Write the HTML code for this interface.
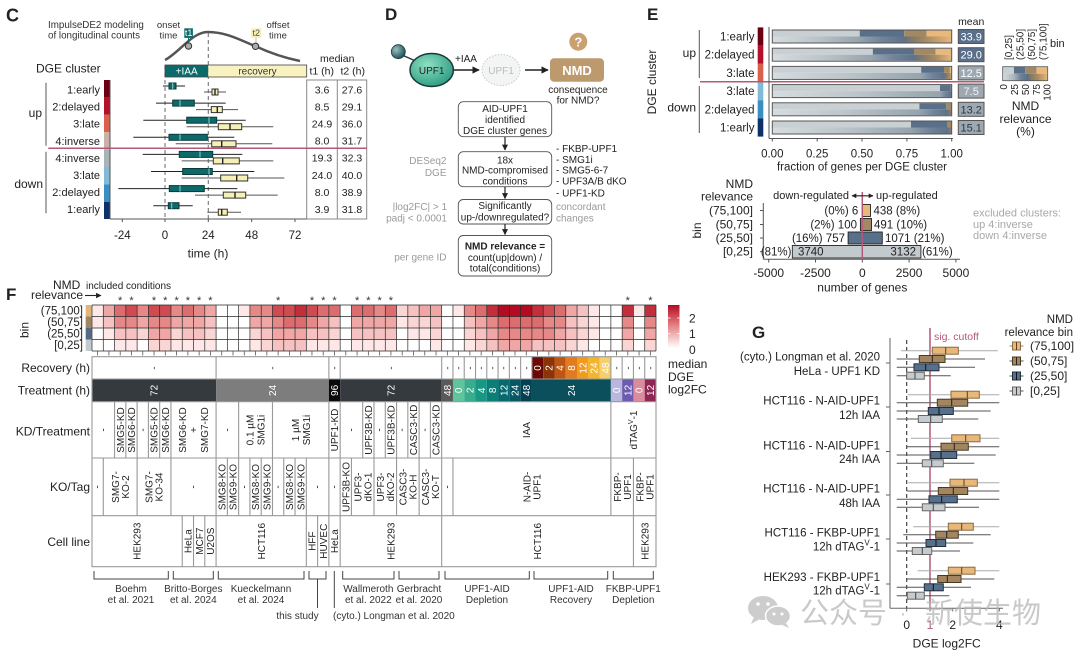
<!DOCTYPE html>
<html><head><meta charset="utf-8">
<style>
html,body{margin:0;padding:0;background:#fff}
svg{display:block;font-family:"Liberation Sans","Noto Sans CJK SC",sans-serif}
.a1{fill:#fde8e7}.a2{fill:#f9d5d4}.a3{fill:#f5c2c1}.a4{fill:#efa6a5}.a5{fill:#e68888}.a6{fill:#dc6c6e}.a7{fill:#d04a50}.a8{fill:#c42e3b}.a9{fill:#b50a22}
.w{fill:#fff}
.t10{font-size:10px}
.g{fill:#9a9a9a}
</style></head><body>
<svg width="1080" height="657" viewBox="0 0 1080 657" xmlns="http://www.w3.org/2000/svg">
<defs>
<marker id="ah" viewBox="0 0 10 10" refX="9" refY="5" markerWidth="5" markerHeight="5" orient="auto"><path d="M0,0L10,5L0,10z" fill="#222"/></marker>
<marker id="ahs" viewBox="0 0 10 10" refX="9" refY="5" markerWidth="4" markerHeight="4" orient="auto-start-reverse"><path d="M0,0L10,5L0,10z" fill="#222"/></marker>
<radialGradient id="upf" cx="0.4" cy="0.35" r="0.7"><stop offset="0" stop-color="#8fe0c2"/><stop offset="1" stop-color="#2b9a80"/></radialGradient>
<radialGradient id="deg" cx="0.35" cy="0.35" r="0.7"><stop offset="0" stop-color="#9cc0c2"/><stop offset="1" stop-color="#1d4b55"/></radialGradient>
<linearGradient id="cb" x1="0" y1="0" x2="0" y2="1"><stop offset="0" stop-color="#b50a22"/><stop offset="0.45" stop-color="#e27c7e"/><stop offset="1" stop-color="#ffffff"/></linearGradient>
<linearGradient id="e1"><stop offset="0" stop-color="#d6dcdf"/><stop offset=".24" stop-color="#bcc5ca"/><stop offset=".487" stop-color="#95a3ad"/><stop offset=".61" stop-color="#72849a"/><stop offset=".735" stop-color="#5e728a"/><stop offset=".8" stop-color="#8d7d62"/><stop offset=".86" stop-color="#a98c63"/><stop offset="1" stop-color="#e6b87a"/></linearGradient>
<linearGradient id="e2"><stop offset="0" stop-color="#d6dcdf"/><stop offset=".28" stop-color="#bcc5ca"/><stop offset=".56" stop-color="#95a3ad"/><stop offset=".675" stop-color="#72849a"/><stop offset=".79" stop-color="#5e728a"/><stop offset=".85" stop-color="#8d7d62"/><stop offset=".91" stop-color="#a98c63"/><stop offset="1" stop-color="#e6b87a"/></linearGradient>
<linearGradient id="e3"><stop offset="0" stop-color="#d6dcdf"/><stop offset=".41" stop-color="#bcc5ca"/><stop offset=".83" stop-color="#95a3ad"/><stop offset=".89" stop-color="#72849a"/><stop offset=".957" stop-color="#5e728a"/><stop offset=".975" stop-color="#8d7d62"/><stop offset=".99" stop-color="#a98c63"/><stop offset="1" stop-color="#e6b87a"/></linearGradient>
<linearGradient id="e4"><stop offset="0" stop-color="#d6dcdf"/><stop offset=".47" stop-color="#bcc5ca"/><stop offset=".935" stop-color="#95a3ad"/><stop offset=".965" stop-color="#72849a"/><stop offset="1" stop-color="#5e728a"/></linearGradient>
<linearGradient id="e5"><stop offset="0" stop-color="#d6dcdf"/><stop offset=".41" stop-color="#bcc5ca"/><stop offset=".82" stop-color="#95a3ad"/><stop offset=".9" stop-color="#72849a"/><stop offset=".97" stop-color="#5e728a"/><stop offset="1" stop-color="#8d7d62"/></linearGradient>
<linearGradient id="e6"><stop offset="0" stop-color="#d6dcdf"/><stop offset=".39" stop-color="#bcc5ca"/><stop offset=".773" stop-color="#95a3ad"/><stop offset=".87" stop-color="#72849a"/><stop offset=".976" stop-color="#5e728a"/><stop offset="1" stop-color="#8d7d62"/></linearGradient>
<linearGradient id="el"><stop offset="0" stop-color="#d6dcdf"/><stop offset=".25" stop-color="#aab5bc"/><stop offset=".4" stop-color="#6f8197"/><stop offset=".55" stop-color="#5a708a"/><stop offset=".65" stop-color="#8d7d62"/><stop offset=".78" stop-color="#a98c63"/><stop offset="1" stop-color="#e6b87a"/></linearGradient>
</defs>
<rect width="1080" height="657" fill="#fff"/>

<!-- ================= PANEL C ================= -->
<g fill="#222">
<text x="6" y="21.5" font-size="18" font-weight="bold">C</text>
<text x="48" y="28" font-size="9.8" fill="#333">ImpulseDE2 modeling</text>
<text x="48" y="38.5" font-size="9.8" fill="#333">of longitudinal counts</text>
<text x="168.5" y="28" font-size="9.5" text-anchor="middle" fill="#333">onset</text>
<text x="168.5" y="38.5" font-size="9.5" text-anchor="middle" fill="#333">time</text>
<text x="278" y="28" font-size="9.5" text-anchor="middle" fill="#333">offset</text>
<text x="278" y="38.5" font-size="9.5" text-anchor="middle" fill="#333">time</text>
</g>
<path d="M165,60 C180,52 192,32 208,32 C226,32 240,40 255,46 C270,53 285,58 300,61" fill="none" stroke="#555" stroke-width="2.5"/>
<line x1="188.5" y1="37.7" x2="188.5" y2="43" stroke="#0b6b6b" stroke-width="1"/>
<rect x="184.3" y="28.3" width="8.6" height="9.6" fill="#0b6b6b"/>
<text x="188.6" y="36" font-size="9" fill="#fff" text-anchor="middle">t1</text>
<line x1="256" y1="37.7" x2="256" y2="43" stroke="#bbb" stroke-width="1"/>
<rect x="251.2" y="28.3" width="10" height="9.6" fill="#f6efb6"/>
<text x="256.2" y="36" font-size="9" fill="#555" text-anchor="middle">t2</text>
<circle cx="188.5" cy="46" r="3.2" fill="#aaa" stroke="#333" stroke-width="1"/>
<circle cx="255.5" cy="46.3" r="3.2" fill="#aaa" stroke="#333" stroke-width="1"/>
<line x1="165" y1="66" x2="165" y2="219" stroke="#777" stroke-width="1.1" stroke-dasharray="4,3"/>
<line x1="208.3" y1="33" x2="208.3" y2="219" stroke="#777" stroke-width="1.1" stroke-dasharray="4,3"/>
<rect x="165" y="65" width="43.3" height="12" fill="#0b6b6b"/>
<rect x="208.3" y="65" width="98.4" height="12" fill="#f8f1c0"/>
<rect x="165" y="65" width="141.7" height="12" fill="none" stroke="#444" stroke-width="0.8"/>
<text x="186.7" y="74.5" font-size="10" fill="#fff" text-anchor="middle">+IAA</text>
<text x="257.5" y="74.5" font-size="10" fill="#333" text-anchor="middle">recovery</text>
<text x="36" y="72.5" font-size="12" fill="#222">DGE cluster</text>
<text x="320" y="62" font-size="10.5" fill="#222">median</text>
<text x="309.5" y="74.5" font-size="10.5" fill="#222">t1 (h)</text>
<text x="340.5" y="74.5" font-size="10.5" fill="#222">t2 (h)</text>
<rect x="306.7" y="80" width="60" height="139" fill="none" stroke="#888" stroke-width="1"/>
<line x1="337.3" y1="80" x2="337.3" y2="219" stroke="#888" stroke-width="1"/>
<g font-size="10.5" fill="#222" text-anchor="middle">
<text x="322" y="93.3">3.6</text><text x="352" y="93.3">27.6</text>
<text x="322" y="110.4">8.5</text><text x="352" y="110.4">29.1</text>
<text x="322" y="127.5">24.9</text><text x="352" y="127.5">36.0</text>
<text x="322" y="144.6">8.0</text><text x="352" y="144.6">31.7</text>
<text x="322" y="161.7">19.3</text><text x="352" y="161.7">32.3</text>
<text x="322" y="178.8">24.0</text><text x="352" y="178.8">40.0</text>
<text x="322" y="195.9">8.0</text><text x="352" y="195.9">38.9</text>
<text x="322" y="213">3.9</text><text x="352" y="213">31.8</text>
</g>
<!-- strip -->
<rect x="104" y="80" width="5.5" height="17.4" fill="#6b0015"/>
<rect x="104" y="97.4" width="5.5" height="17.4" fill="#b5102a"/>
<rect x="104" y="114.8" width="5.5" height="17.4" fill="#d9604a"/>
<rect x="104" y="132.2" width="5.5" height="17.4" fill="#c9b0a8"/>
<rect x="104" y="149.6" width="5.5" height="17.4" fill="#a8b4b8"/>
<rect x="104" y="167" width="5.5" height="17.4" fill="#80bcd8"/>
<rect x="104" y="184.4" width="5.5" height="17.4" fill="#3a8fc2"/>
<rect x="104" y="201.8" width="5.5" height="17.2" fill="#0d3068"/>
<g font-size="11" fill="#222" text-anchor="end">
<text x="100" y="93.5">1:early</text>
<text x="100" y="110.6">2:delayed</text>
<text x="100" y="127.7">3:late</text>
<text x="100" y="144.8">4:inverse</text>
<text x="100" y="161.9">4:inverse</text>
<text x="100" y="179">3:late</text>
<text x="100" y="196.1">2:delayed</text>
<text x="100" y="213.2">1:early</text>
</g>
<text x="42" y="117" font-size="12" text-anchor="end" fill="#222">up</text>
<text x="43" y="188" font-size="12" text-anchor="end" fill="#222">down</text>
<line x1="46" y1="82.7" x2="46" y2="145.7" stroke="#555" stroke-width="1"/>
<line x1="46" y1="151.7" x2="46" y2="213.3" stroke="#555" stroke-width="1"/>
<line x1="110" y1="80" x2="110" y2="219" stroke="#555" stroke-width="1"/>
<line x1="110" y1="219" x2="306.7" y2="219" stroke="#555" stroke-width="1"/>
<line x1="48.3" y1="148.3" x2="366.7" y2="148.3" stroke="#b4587a" stroke-width="1.5"/>
<!-- C boxplots -->
<g stroke-width="1">
<line x1="163" y1="86" x2="185" y2="86" stroke="#222"/><rect x="169" y="83" width="7" height="6" fill="#0d6a6a" stroke="#0a3a3a"/><line x1="172.7" y1="83" x2="172.7" y2="89" stroke="#9cc"/>
<line x1="204" y1="92" x2="226" y2="92" stroke="#555"/><rect x="212" y="89" width="6" height="6" fill="#f7f0b6" stroke="#333"/><line x1="215" y1="89" x2="215" y2="95" stroke="#222" stroke-width="1.4"/>
<line x1="156" y1="103.1" x2="225.7" y2="103.1" stroke="#222"/><rect x="172.7" y="100.1" width="21.6" height="6" fill="#0d6a6a" stroke="#0a3a3a"/><line x1="180" y1="100.1" x2="180" y2="106.1" stroke="#9cc"/>
<line x1="196" y1="109.6" x2="238" y2="109.6" stroke="#555"/><rect x="211.3" y="106.6" width="11" height="6" fill="#f7f0b6" stroke="#333"/><line x1="217.3" y1="106.6" x2="217.3" y2="112.6" stroke="#222" stroke-width="1.4"/>
<line x1="143.3" y1="120.2" x2="245.7" y2="120.2" stroke="#222"/><rect x="186.7" y="117.2" width="30" height="6" fill="#0d6a6a" stroke="#0a3a3a"/><line x1="209" y1="117.2" x2="209" y2="123.2" stroke="#9cc"/>
<line x1="186.7" y1="126.7" x2="273.3" y2="126.7" stroke="#555"/><rect x="218.3" y="123.7" width="23.4" height="6" fill="#f7f0b6" stroke="#333"/><line x1="230" y1="123.7" x2="230" y2="129.7" stroke="#222" stroke-width="1.4"/>
<line x1="133.3" y1="137.3" x2="234.3" y2="137.3" stroke="#222"/><rect x="169" y="134.3" width="38.3" height="6" fill="#0d6a6a" stroke="#0a3a3a"/><line x1="180" y1="134.3" x2="180" y2="140.3" stroke="#9cc"/>
<line x1="175.7" y1="143.8" x2="272.3" y2="143.8" stroke="#555"/><rect x="211.7" y="140.8" width="24.3" height="6" fill="#f7f0b6" stroke="#333"/><line x1="221.7" y1="140.8" x2="221.7" y2="146.8" stroke="#222" stroke-width="1.4"/>
<line x1="142.7" y1="154.4" x2="242.3" y2="154.4" stroke="#222"/><rect x="179.3" y="151.4" width="33.4" height="6" fill="#0d6a6a" stroke="#0a3a3a"/><line x1="200" y1="151.4" x2="200" y2="157.4" stroke="#9cc"/>
<line x1="181.7" y1="160.9" x2="273.3" y2="160.9" stroke="#555"/><rect x="213.3" y="157.9" width="26" height="6" fill="#f7f0b6" stroke="#333"/><line x1="222.7" y1="157.9" x2="222.7" y2="163.9" stroke="#222" stroke-width="1.4"/>
<line x1="151" y1="171.5" x2="254.3" y2="171.5" stroke="#222"/><rect x="182.7" y="168.5" width="29.6" height="6" fill="#0d6a6a" stroke="#0a3a3a"/><line x1="209" y1="168.5" x2="209" y2="174.5" stroke="#9cc"/>
<line x1="181.7" y1="178" x2="284.3" y2="178" stroke="#555"/><rect x="220.7" y="175" width="27" height="6" fill="#f7f0b6" stroke="#333"/><line x1="236.7" y1="175" x2="236.7" y2="181" stroke="#222" stroke-width="1.4"/>
<line x1="118.3" y1="188.6" x2="237.3" y2="188.6" stroke="#222"/><rect x="169.3" y="185.6" width="35" height="6" fill="#0d6a6a" stroke="#0a3a3a"/><line x1="180" y1="185.6" x2="180" y2="191.6" stroke="#9cc"/>
<line x1="195" y1="195.1" x2="277.7" y2="195.1" stroke="#555"/><rect x="223.3" y="192.1" width="22.4" height="6" fill="#f7f0b6" stroke="#333"/><line x1="235" y1="192.1" x2="235" y2="198.1" stroke="#222" stroke-width="1.4"/>
<line x1="153.3" y1="205.7" x2="192.7" y2="205.7" stroke="#222"/><rect x="168.3" y="202.7" width="10.7" height="6" fill="#0d6a6a" stroke="#0a3a3a"/><line x1="171.7" y1="202.7" x2="171.7" y2="208.7" stroke="#9cc"/>
<line x1="207.3" y1="212.2" x2="241" y2="212.2" stroke="#555"/><rect x="218.3" y="209.2" width="9" height="6" fill="#f7f0b6" stroke="#333"/><line x1="221.7" y1="209.2" x2="221.7" y2="215.2" stroke="#222" stroke-width="1.4"/>
</g>
<g stroke="#555" stroke-width="1"><line x1="122.3" y1="219" x2="122.3" y2="222"/><line x1="165" y1="219" x2="165" y2="222"/><line x1="208.3" y1="219" x2="208.3" y2="222"/><line x1="251.7" y1="219" x2="251.7" y2="222"/><line x1="295" y1="219" x2="295" y2="222"/></g>
<g font-size="11.5" fill="#222" text-anchor="middle">
<text x="122.3" y="239">-24</text><text x="165" y="239">0</text><text x="208.3" y="239">24</text><text x="251.7" y="239">48</text><text x="295" y="239">72</text>
<text x="208" y="257.5" font-size="12">time (h)</text>
</g>

<!-- ================= PANEL D ================= -->
<text x="385" y="20" font-size="17" font-weight="bold" fill="#222">D</text>
<line x1="402" y1="55" x2="418" y2="62" stroke="#1d3b40" stroke-width="1.5"/>
<circle cx="398.3" cy="51.7" r="7" fill="url(#deg)" stroke="#1d3b40" stroke-width="0.8"/>
<ellipse cx="431.7" cy="70" rx="21.7" ry="16.5" fill="url(#upf)" stroke="#173838" stroke-width="1.5"/>
<text x="431.7" y="74" font-size="10" text-anchor="middle" fill="#222">UPF1</text>
<line x1="453.5" y1="70" x2="479" y2="70" stroke="#222" stroke-width="1.5" marker-end="url(#ah)"/>
<text x="455" y="62" font-size="10" fill="#222">+IAA</text>
<ellipse cx="501" cy="70" rx="19" ry="15.5" fill="#f3f5f4" stroke="#c8c8c8" stroke-width="1" stroke-dasharray="1.5,1.5"/>
<text x="501" y="74" font-size="10" text-anchor="middle" fill="#bbb">UPF1</text>
<line x1="525" y1="70" x2="548" y2="70" stroke="#222" stroke-width="1.5" marker-end="url(#ah)"/>
<rect x="550" y="58.3" width="54" height="23.4" rx="4" fill="#bd9a6e"/>
<text x="577" y="75" font-size="13" font-weight="bold" text-anchor="middle" fill="#fff">NMD</text>
<circle cx="578.3" cy="41.7" r="9" fill="#c9a06f"/>
<text x="578.3" y="46.5" font-size="13" font-weight="bold" text-anchor="middle" fill="#fff">?</text>
<text x="578" y="93" font-size="10" text-anchor="middle" fill="#222">consequence</text>
<text x="578" y="103.5" font-size="10" text-anchor="middle" fill="#222">for NMD?</text>
<g fill="none" stroke="#555" stroke-width="0.9">
<rect x="458.3" y="101.7" width="93.4" height="35" rx="5"/>
<rect x="458.3" y="151.7" width="93.4" height="35" rx="5"/>
<rect x="458.3" y="199.5" width="93.4" height="24.5" rx="5"/>
<rect x="458.3" y="235.5" width="93.4" height="40.5" rx="5"/>
</g>
<g stroke="#222" stroke-width="1.2"><line x1="505" y1="137" x2="505" y2="150" marker-end="url(#ah)"/><line x1="505" y1="187" x2="505" y2="198.5" marker-end="url(#ah)"/><line x1="505" y1="224" x2="505" y2="234.5" marker-end="url(#ah)"/></g>
<g font-size="10" fill="#222" text-anchor="middle">
<text x="505" y="112">AID-UPF1</text><text x="505" y="123">identified</text><text x="505" y="134">DGE cluster genes</text>
<text x="505" y="163.7">18x</text><text x="505" y="173.7">NMD-compromised</text><text x="505" y="184.7">conditions</text>
<text x="505" y="209">Significantly</text><text x="505" y="220.5">up-/downregulated?</text>
<text x="505" y="249.5" font-weight="bold">NMD relevance =</text><text x="505" y="261">count(up|down) /</text><text x="505" y="271.5">total(conditions)</text>
</g>
<g font-size="10" fill="#9a9a9a" text-anchor="end">
<text x="446.5" y="164">DESeq2</text><text x="446.5" y="176">DGE</text>
<text x="447" y="210">|log2FC| &gt; 1</text><text x="447" y="221.5">padj &lt; 0.0001</text>
<text x="446.5" y="260.5">per gene ID</text>
</g>
<g font-size="10" fill="#222">
<text x="556" y="152">- FKBP-UPF1</text><text x="556" y="163">- SMG1i</text><text x="556" y="173.7">- SMG5-6-7</text><text x="556" y="184.7">- UPF3A/B dKO</text><text x="556" y="196.3">- UPF1-KD</text>
</g>
<text x="556" y="210" font-size="10" fill="#9a9a9a">concordant</text>
<text x="556" y="221.5" font-size="10" fill="#9a9a9a">changes</text>

<!-- ================= PANEL E ================= -->
<text x="647" y="20" font-size="17" font-weight="bold" fill="#222">E</text>
<text transform="translate(656,82) rotate(-90)" font-size="12" text-anchor="middle" fill="#222">DGE cluster</text>
<text x="696" y="57" font-size="12" text-anchor="end" fill="#222">up</text>
<text x="696" y="111.5" font-size="12" text-anchor="end" fill="#222">down</text>
<line x1="699.3" y1="30" x2="699.3" y2="78" stroke="#555"/>
<line x1="699.3" y1="86" x2="699.3" y2="133" stroke="#555"/>
<g font-size="11.5" fill="#222" text-anchor="end">
<text x="754.5" y="40.5">1:early</text><text x="754.5" y="58.7">2:delayed</text><text x="754.5" y="76.9">3:late</text>
<text x="754.5" y="95.1">3:late</text><text x="754.5" y="113.3">2:delayed</text><text x="754.5" y="131.5">1:early</text>
</g>
<rect x="757.7" y="27.4" width="5.6" height="18.2" fill="#6b0015"/>
<rect x="757.7" y="45.6" width="5.6" height="18.2" fill="#b5102a"/>
<rect x="757.7" y="63.8" width="5.6" height="18.2" fill="#d9604a"/>
<rect x="757.7" y="82" width="5.6" height="18.2" fill="#80bcd8"/>
<rect x="757.7" y="100.2" width="5.6" height="18.2" fill="#3a8fc2"/>
<rect x="757.7" y="118.4" width="5.6" height="18.2" fill="#0d3068"/>
<!-- bars -->
<g>
<rect x="772.3" y="30.5" width="87.4" height="6" fill="#c9d0d4"/><rect x="859.7" y="30.5" width="44.5" height="6" fill="#58708a"/><rect x="904.2" y="30.5" width="22.4" height="6" fill="#a38963"/><rect x="926.6" y="30.5" width="25.1" height="6" fill="#e9b97c"/>
<rect x="772.3" y="36.5" width="179.4" height="6" fill="url(#e1)"/>
<rect x="772.3" y="48.7" width="100.5" height="6" fill="#c9d0d4"/><rect x="872.8" y="48.7" width="41.2" height="6" fill="#58708a"/><rect x="914" y="48.7" width="21.6" height="6" fill="#a38963"/><rect x="935.6" y="48.7" width="16.1" height="6" fill="#e9b97c"/>
<rect x="772.3" y="54.7" width="179.4" height="6" fill="url(#e2)"/>
<rect x="772.3" y="66.9" width="148.9" height="6" fill="#c9d0d4"/><rect x="921.2" y="66.9" width="22.8" height="6" fill="#58708a"/><rect x="944" y="66.9" width="5.9" height="6" fill="#a38963"/><rect x="949.9" y="66.9" width="1.8" height="6" fill="#e9b97c"/>
<rect x="772.3" y="72.9" width="179.4" height="6" fill="url(#e3)"/>
<rect x="772.3" y="85.1" width="167.7" height="6" fill="#c9d0d4"/><rect x="940" y="85.1" width="10.8" height="6" fill="#58708a"/><rect x="950.8" y="85.1" width="0.9" height="6" fill="#a38963"/>
<rect x="772.3" y="91.1" width="179.4" height="6" fill="url(#e4)"/>
<rect x="772.3" y="103.3" width="147.1" height="6" fill="#c9d0d4"/><rect x="919.4" y="103.3" width="26.9" height="6" fill="#58708a"/><rect x="946.3" y="103.3" width="5.4" height="6" fill="#a38963"/>
<rect x="772.3" y="109.3" width="179.4" height="6" fill="url(#e5)"/>
<rect x="772.3" y="121.5" width="138.7" height="6" fill="#c9d0d4"/><rect x="911" y="121.5" width="36.4" height="6" fill="#58708a"/><rect x="947.4" y="121.5" width="4.3" height="6" fill="#a38963"/>
<rect x="772.3" y="127.5" width="179.4" height="6" fill="url(#e6)"/>
</g>
<g fill="none" stroke="#555" stroke-width="1">
<rect x="772.3" y="30" width="179.4" height="13"/><rect x="772.3" y="48.2" width="179.4" height="13"/><rect x="772.3" y="66.4" width="179.4" height="13"/>
<rect x="772.3" y="84.6" width="179.4" height="13"/><rect x="772.3" y="102.8" width="179.4" height="13"/><rect x="772.3" y="121" width="179.4" height="13"/>
</g>
<g stroke="#555" stroke-width="1">
<rect x="958.3" y="29.5" width="25.7" height="14" fill="#5a708a"/>
<rect x="958.3" y="47.7" width="25.7" height="14" fill="#5a708a"/>
<rect x="958.3" y="65.9" width="25.7" height="14" fill="#9ea8b0"/>
<rect x="958.3" y="84.1" width="25.7" height="14" fill="#9ea8b0"/>
<rect x="958.3" y="102.3" width="25.7" height="14" fill="#9ea8b0"/>
<rect x="958.3" y="120.5" width="25.7" height="14" fill="#9ea8b0"/>
</g>
<g font-size="11" text-anchor="middle">
<text x="971.2" y="40.5" fill="#fff">33.9</text><text x="971.2" y="58.7" fill="#fff">29.0</text><text x="971.2" y="76.9" fill="#fff">12.5</text>
<text x="971.2" y="95.1" fill="#f4f4f4">7.5</text><text x="971.2" y="113.3" fill="#2a3a4a">13.2</text><text x="971.2" y="131.5" fill="#2a3a4a">15.1</text>
</g>
<text x="971.2" y="25" font-size="10.5" text-anchor="middle" fill="#222">mean</text>
<line x1="700" y1="81.7" x2="984" y2="81.7" stroke="#b4587a" stroke-width="1.5"/>
<line x1="769" y1="27" x2="769" y2="138.5" stroke="#555"/>
<line x1="769" y1="138.5" x2="953" y2="138.5" stroke="#555"/>
<g stroke="#555"><line x1="772.3" y1="138.5" x2="772.3" y2="141.5"/><line x1="817.2" y1="138.5" x2="817.2" y2="141.5"/><line x1="862" y1="138.5" x2="862" y2="141.5"/><line x1="906.9" y1="138.5" x2="906.9" y2="141.5"/><line x1="951.7" y1="138.5" x2="951.7" y2="141.5"/></g>
<g font-size="11.5" fill="#222" text-anchor="middle">
<text x="772.3" y="157.5">0.00</text><text x="817.2" y="157.5">0.25</text><text x="862" y="157.5">0.50</text><text x="906.9" y="157.5">0.75</text><text x="951.7" y="157.5">1.00</text>
<text x="862" y="170.5">fraction of genes per DGE cluster</text>
</g>
<!-- E legend -->
<rect x="1002.7" y="66.7" width="11.25" height="7" fill="#c9d0d4"/><rect x="1013.95" y="66.7" width="11.25" height="7" fill="#58708a"/><rect x="1025.2" y="66.7" width="11.25" height="7" fill="#a38963"/><rect x="1036.45" y="66.7" width="11.25" height="7" fill="#e9b97c"/>
<rect x="1002.7" y="73.7" width="45" height="7" fill="url(#el)"/>
<rect x="1002.7" y="66.7" width="45" height="14" fill="none" stroke="#555" stroke-width="0.8"/>
<g font-size="10" fill="#222">
<text transform="translate(1012,60) rotate(-90)">[0,25]</text>
<text transform="translate(1023.5,60) rotate(-90)">(25,50]</text>
<text transform="translate(1035,60) rotate(-90)">(50,75]</text>
<text transform="translate(1046.5,60) rotate(-90)">(75,100]</text>
<text transform="translate(1006.8,84) rotate(-90)" text-anchor="end">0</text>
<text transform="translate(1017.8,84) rotate(-90)" text-anchor="end">25</text>
<text transform="translate(1029,84) rotate(-90)" text-anchor="end">50</text>
<text transform="translate(1039.8,84) rotate(-90)" text-anchor="end">75</text>
<text transform="translate(1050.5,84) rotate(-90)" text-anchor="end">100</text>
</g>
<text x="1050" y="47" font-size="11" fill="#222">bin</text>
<g font-size="12" fill="#222" text-anchor="middle"><text x="1025.5" y="110">NMD</text><text x="1025.5" y="123">relevance</text><text x="1025.5" y="135.5">(%)</text></g>
<!-- E lower -->
<g font-size="12" fill="#222" text-anchor="end">
<text x="753" y="188">NMD</text><text x="753" y="200.5">relevance</text>
<text x="753" y="214.5">(75,100]</text><text x="753" y="228.5">(50,75]</text><text x="753" y="242">(25,50]</text><text x="753" y="255.5">[0,25]</text>
</g>
<text transform="translate(701,230.5) rotate(-90)" font-size="12" text-anchor="middle" fill="#222">bin</text>
<line x1="763.3" y1="203" x2="763.3" y2="259.3" stroke="#555"/>
<g stroke="#555"><line x1="760" y1="210.5" x2="763.3" y2="210.5"/><line x1="760" y1="224.5" x2="763.3" y2="224.5"/><line x1="760" y1="238" x2="763.3" y2="238"/><line x1="760" y1="251.7" x2="763.3" y2="251.7"/></g>
<line x1="763.3" y1="259.3" x2="960" y2="259.3" stroke="#555"/>
<g stroke="#555"><line x1="768.7" y1="259.3" x2="768.7" y2="262.5"/><line x1="815.5" y1="259.3" x2="815.5" y2="262.5"/><line x1="862.3" y1="259.3" x2="862.3" y2="262.5"/><line x1="909.1" y1="259.3" x2="909.1" y2="262.5"/><line x1="955.9" y1="259.3" x2="955.9" y2="262.5"/></g>
<g font-size="12" fill="#222" text-anchor="middle">
<text x="768.7" y="277">-5000</text><text x="815.5" y="277">-2500</text><text x="862.3" y="277">0</text><text x="909.1" y="277">2500</text><text x="955.9" y="277">5000</text>
<text x="862.3" y="291.5">number of genes</text>
</g>
<g stroke="#222" stroke-width="0.9">
<rect x="862.3" y="204.5" width="8.2" height="12" fill="#e9b97c"/>
<rect x="860.4" y="218.5" width="11.1" height="12" fill="#a38963"/>
<rect x="848.1" y="232" width="34.2" height="12" fill="#58708a"/>
<rect x="792.3" y="245.5" width="128.6" height="12.5" fill="#c3cacd"/>
</g>
<line x1="862.3" y1="192" x2="862.3" y2="259.3" stroke="#b4587a" stroke-width="1.5"/>
<g font-size="11.5" fill="#222">
<text x="858.3" y="214.5" text-anchor="end">(0%) 6</text><text x="873.5" y="214.5">438 (8%)</text>
<text x="857" y="228.5" text-anchor="end">(2%) 100</text><text x="874" y="228.5">491 (10%)</text>
<text x="845" y="242" text-anchor="end">(16%) 757</text><text x="885" y="242">1071 (21%)</text>
<text x="791.5" y="255.5" text-anchor="end">(81%)</text><text x="798" y="255.5">3740</text><text x="916" y="255.5" text-anchor="end">3132</text><text x="922" y="255.5">(61%)</text>
</g>
<text x="849" y="199" font-size="11" text-anchor="end" fill="#222">down-regulated</text>
<line x1="852" y1="195.8" x2="873" y2="195.8" stroke="#222" stroke-width="1.2" marker-start="url(#ahs)" marker-end="url(#ahs)"/>
<text x="876" y="199" font-size="11" fill="#222">up-regulated</text>
<g font-size="11" fill="#a8a8a8"><text x="973" y="216.5">excluded clusters:</text><text x="973" y="227.8">up 4:inverse</text><text x="973" y="239">down 4:inverse</text></g>

<!-- ================= PANEL F ================= -->
<text x="6" y="300" font-size="17" font-weight="bold" fill="#222">F</text>
<text x="53" y="289" font-size="12" fill="#222">NMD</text>
<text x="86" y="289" font-size="10" fill="#222">included conditions</text>
<text x="83" y="299" font-size="12" text-anchor="end" fill="#222">relevance</text>
<line x1="85" y1="295.5" x2="101" y2="295.5" stroke="#222" stroke-width="1.1" marker-end="url(#ah)"/>
<g font-size="11" fill="#333" text-anchor="middle">
<text x="120.2" y="304">*</text><text x="131.48" y="304">*</text><text x="154.04" y="304">*</text><text x="165.32" y="304">*</text><text x="176.6" y="304">*</text><text x="187.88" y="304">*</text><text x="199.16" y="304">*</text><text x="210.44" y="304">*</text><text x="278.12" y="304">*</text><text x="311.96" y="304">*</text><text x="323.24" y="304">*</text><text x="334.52" y="304">*</text><text x="357.08" y="304">*</text><text x="368.36" y="304">*</text><text x="379.64" y="304">*</text><text x="390.92" y="304">*</text><text x="627.8" y="304">*</text><text x="650.36" y="304">*</text>
</g>
<g font-size="11.5" fill="#222" text-anchor="end">
<text x="83" y="314.5">(75,100]</text><text x="83" y="326">(50,75]</text><text x="83" y="337.5">(25,50]</text><text x="83" y="349">[0,25]</text>
</g>
<text transform="translate(28.5,330) rotate(-90)" font-size="12" text-anchor="middle" fill="#222">bin</text>
<rect x="85.7" y="305" width="6" height="11.5" fill="#e2b57a"/><rect x="85.7" y="316.5" width="6" height="11.5" fill="#a08660"/><rect x="85.7" y="328" width="6" height="11.5" fill="#536b86"/><rect x="85.7" y="339.5" width="6" height="11.5" fill="#c3cacd"/>
<!-- heatmap row 0 -->
<g>
<rect x="92" y="305" width="11.3" height="11.5" class="a1"/><rect x="103.28" y="305" width="11.3" height="11.5" class="a4"/><rect x="114.56" y="305" width="11.3" height="11.5" class="a6"/><rect x="125.84" y="305" width="11.3" height="11.5" class="a7"/><rect x="137.12" y="305" width="11.3" height="11.5" class="a5"/><rect x="148.4" y="305" width="11.3" height="11.5" class="a7"/><rect x="159.68" y="305" width="11.3" height="11.5" class="a7"/><rect x="170.96" y="305" width="11.3" height="11.5" class="a5"/><rect x="182.24" y="305" width="11.3" height="11.5" class="a6"/><rect x="193.52" y="305" width="11.3" height="11.5" class="a5"/><rect x="204.8" y="305" width="11.3" height="11.5" class="a4"/><rect x="238.64" y="305" width="11.3" height="11.5" class="a1"/><rect x="249.92" y="305" width="11.3" height="11.5" class="a5"/><rect x="261.2" y="305" width="11.3" height="11.5" class="a5"/><rect x="272.48" y="305" width="11.3" height="11.5" class="a7"/><rect x="283.76" y="305" width="11.3" height="11.5" class="a7"/><rect x="295.04" y="305" width="11.3" height="11.5" class="a8"/><rect x="306.32" y="305" width="11.3" height="11.5" class="a7"/><rect x="317.6" y="305" width="11.3" height="11.5" class="a6"/><rect x="328.88" y="305" width="11.3" height="11.5" class="a6"/><rect x="351.44" y="305" width="11.3" height="11.5" class="a6"/><rect x="362.72" y="305" width="11.3" height="11.5" class="a6"/><rect x="374" y="305" width="11.3" height="11.5" class="a5"/><rect x="385.28" y="305" width="11.3" height="11.5" class="a6"/><rect x="396.56" y="305" width="11.3" height="11.5" class="a2"/><rect x="407.84" y="305" width="11.3" height="11.5" class="a3"/><rect x="419.12" y="305" width="11.3" height="11.5" class="a4"/><rect x="430.4" y="305" width="11.3" height="11.5" class="a4"/><rect x="452.96" y="305" width="11.3" height="11.5" class="a1"/><rect x="464.24" y="305" width="11.3" height="11.5" class="a5"/><rect x="475.52" y="305" width="11.3" height="11.5" class="a6"/><rect x="486.8" y="305" width="11.3" height="11.5" class="a8"/><rect x="498.08" y="305" width="11.3" height="11.5" class="a9"/><rect x="509.36" y="305" width="11.3" height="11.5" class="a9"/><rect x="520.64" y="305" width="11.3" height="11.5" class="a9"/><rect x="531.92" y="305" width="11.3" height="11.5" class="a8"/><rect x="543.2" y="305" width="11.3" height="11.5" class="a7"/><rect x="554.48" y="305" width="11.3" height="11.5" class="a6"/><rect x="565.76" y="305" width="11.3" height="11.5" class="a4"/><rect x="577.04" y="305" width="11.3" height="11.5" class="a3"/><rect x="588.32" y="305" width="11.3" height="11.5" class="a1"/><rect x="622.16" y="305" width="11.3" height="11.5" class="a8"/><rect x="633.44" y="305" width="11.3" height="11.5" class="a1"/><rect x="644.72" y="305" width="11.3" height="11.5" class="a8"/>
</g>
<!-- row 1 -->
<g>
<rect x="92" y="316.5" width="11.3" height="11.5" class="a1"/><rect x="103.28" y="316.5" width="11.3" height="11.5" class="a3"/><rect x="114.56" y="316.5" width="11.3" height="11.5" class="a5"/><rect x="125.84" y="316.5" width="11.3" height="11.5" class="a5"/><rect x="137.12" y="316.5" width="11.3" height="11.5" class="a4"/><rect x="148.4" y="316.5" width="11.3" height="11.5" class="a5"/><rect x="159.68" y="316.5" width="11.3" height="11.5" class="a5"/><rect x="170.96" y="316.5" width="11.3" height="11.5" class="a4"/><rect x="182.24" y="316.5" width="11.3" height="11.5" class="a4"/><rect x="193.52" y="316.5" width="11.3" height="11.5" class="a4"/><rect x="204.8" y="316.5" width="11.3" height="11.5" class="a3"/><rect x="249.92" y="316.5" width="11.3" height="11.5" class="a4"/><rect x="261.2" y="316.5" width="11.3" height="11.5" class="a4"/><rect x="272.48" y="316.5" width="11.3" height="11.5" class="a5"/><rect x="283.76" y="316.5" width="11.3" height="11.5" class="a6"/><rect x="295.04" y="316.5" width="11.3" height="11.5" class="a6"/><rect x="306.32" y="316.5" width="11.3" height="11.5" class="a5"/><rect x="317.6" y="316.5" width="11.3" height="11.5" class="a4"/><rect x="328.88" y="316.5" width="11.3" height="11.5" class="a3"/><rect x="351.44" y="316.5" width="11.3" height="11.5" class="a4"/><rect x="362.72" y="316.5" width="11.3" height="11.5" class="a4"/><rect x="374" y="316.5" width="11.3" height="11.5" class="a4"/><rect x="385.28" y="316.5" width="11.3" height="11.5" class="a4"/><rect x="396.56" y="316.5" width="11.3" height="11.5" class="a1"/><rect x="407.84" y="316.5" width="11.3" height="11.5" class="a2"/><rect x="419.12" y="316.5" width="11.3" height="11.5" class="a2"/><rect x="430.4" y="316.5" width="11.3" height="11.5" class="a3"/><rect x="464.24" y="316.5" width="11.3" height="11.5" class="a3"/><rect x="475.52" y="316.5" width="11.3" height="11.5" class="a4"/><rect x="486.8" y="316.5" width="11.3" height="11.5" class="a5"/><rect x="498.08" y="316.5" width="11.3" height="11.5" class="a6"/><rect x="509.36" y="316.5" width="11.3" height="11.5" class="a6"/><rect x="520.64" y="316.5" width="11.3" height="11.5" class="a6"/><rect x="531.92" y="316.5" width="11.3" height="11.5" class="a6"/><rect x="543.2" y="316.5" width="11.3" height="11.5" class="a5"/><rect x="554.48" y="316.5" width="11.3" height="11.5" class="a5"/><rect x="565.76" y="316.5" width="11.3" height="11.5" class="a3"/><rect x="577.04" y="316.5" width="11.3" height="11.5" class="a2"/><rect x="588.32" y="316.5" width="11.3" height="11.5" class="a1"/><rect x="622.16" y="316.5" width="11.3" height="11.5" class="a5"/><rect x="644.72" y="316.5" width="11.3" height="11.5" class="a5"/>
</g>
<!-- row 2 -->
<g>
<rect x="103.28" y="328" width="11.3" height="11.5" class="a1"/><rect x="114.56" y="328" width="11.3" height="11.5" class="a3"/><rect x="125.84" y="328" width="11.3" height="11.5" class="a3"/><rect x="137.12" y="328" width="11.3" height="11.5" class="a2"/><rect x="148.4" y="328" width="11.3" height="11.5" class="a4"/><rect x="159.68" y="328" width="11.3" height="11.5" class="a4"/><rect x="170.96" y="328" width="11.3" height="11.5" class="a2"/><rect x="182.24" y="328" width="11.3" height="11.5" class="a3"/><rect x="193.52" y="328" width="11.3" height="11.5" class="a3"/><rect x="204.8" y="328" width="11.3" height="11.5" class="a2"/><rect x="249.92" y="328" width="11.3" height="11.5" class="a2"/><rect x="261.2" y="328" width="11.3" height="11.5" class="a3"/><rect x="272.48" y="328" width="11.3" height="11.5" class="a4"/><rect x="283.76" y="328" width="11.3" height="11.5" class="a4"/><rect x="295.04" y="328" width="11.3" height="11.5" class="a4"/><rect x="306.32" y="328" width="11.3" height="11.5" class="a3"/><rect x="317.6" y="328" width="11.3" height="11.5" class="a3"/><rect x="328.88" y="328" width="11.3" height="11.5" class="a2"/><rect x="351.44" y="328" width="11.3" height="11.5" class="a3"/><rect x="362.72" y="328" width="11.3" height="11.5" class="a3"/><rect x="374" y="328" width="11.3" height="11.5" class="a3"/><rect x="385.28" y="328" width="11.3" height="11.5" class="a3"/><rect x="407.84" y="328" width="11.3" height="11.5" class="a1"/><rect x="419.12" y="328" width="11.3" height="11.5" class="a1"/><rect x="430.4" y="328" width="11.3" height="11.5" class="a2"/><rect x="464.24" y="328" width="11.3" height="11.5" class="a2"/><rect x="475.52" y="328" width="11.3" height="11.5" class="a3"/><rect x="486.8" y="328" width="11.3" height="11.5" class="a4"/><rect x="498.08" y="328" width="11.3" height="11.5" class="a5"/><rect x="509.36" y="328" width="11.3" height="11.5" class="a5"/><rect x="520.64" y="328" width="11.3" height="11.5" class="a5"/><rect x="531.92" y="328" width="11.3" height="11.5" class="a5"/><rect x="543.2" y="328" width="11.3" height="11.5" class="a5"/><rect x="554.48" y="328" width="11.3" height="11.5" class="a4"/><rect x="565.76" y="328" width="11.3" height="11.5" class="a3"/><rect x="577.04" y="328" width="11.3" height="11.5" class="a2"/><rect x="588.32" y="328" width="11.3" height="11.5" class="a1"/><rect x="622.16" y="328" width="11.3" height="11.5" class="a4"/><rect x="644.72" y="328" width="11.3" height="11.5" class="a4"/>
</g>
<!-- row 3 -->
<g>
<rect x="114.56" y="339.5" width="11.3" height="11.5" class="a1"/><rect x="125.84" y="339.5" width="11.3" height="11.5" class="a1"/><rect x="148.4" y="339.5" width="11.3" height="11.5" class="a2"/><rect x="159.68" y="339.5" width="11.3" height="11.5" class="a2"/><rect x="170.96" y="339.5" width="11.3" height="11.5" class="a1"/><rect x="182.24" y="339.5" width="11.3" height="11.5" class="a1"/><rect x="193.52" y="339.5" width="11.3" height="11.5" class="a1"/><rect x="204.8" y="339.5" width="11.3" height="11.5" class="a1"/><rect x="249.92" y="339.5" width="11.3" height="11.5" class="a1"/><rect x="261.2" y="339.5" width="11.3" height="11.5" class="a2"/><rect x="272.48" y="339.5" width="11.3" height="11.5" class="a3"/><rect x="283.76" y="339.5" width="11.3" height="11.5" class="a3"/><rect x="295.04" y="339.5" width="11.3" height="11.5" class="a3"/><rect x="306.32" y="339.5" width="11.3" height="11.5" class="a1"/><rect x="317.6" y="339.5" width="11.3" height="11.5" class="a1"/><rect x="328.88" y="339.5" width="11.3" height="11.5" class="a1"/><rect x="351.44" y="339.5" width="11.3" height="11.5" class="a1"/><rect x="362.72" y="339.5" width="11.3" height="11.5" class="a1"/><rect x="374" y="339.5" width="11.3" height="11.5" class="a1"/><rect x="385.28" y="339.5" width="11.3" height="11.5" class="a1"/><rect x="430.4" y="339.5" width="11.3" height="11.5" class="a1"/><rect x="464.24" y="339.5" width="11.3" height="11.5" class="a1"/><rect x="475.52" y="339.5" width="11.3" height="11.5" class="a2"/><rect x="486.8" y="339.5" width="11.3" height="11.5" class="a3"/><rect x="498.08" y="339.5" width="11.3" height="11.5" class="a4"/><rect x="509.36" y="339.5" width="11.3" height="11.5" class="a4"/><rect x="520.64" y="339.5" width="11.3" height="11.5" class="a4"/><rect x="531.92" y="339.5" width="11.3" height="11.5" class="a3"/><rect x="543.2" y="339.5" width="11.3" height="11.5" class="a3"/><rect x="554.48" y="339.5" width="11.3" height="11.5" class="a3"/><rect x="565.76" y="339.5" width="11.3" height="11.5" class="a2"/><rect x="577.04" y="339.5" width="11.3" height="11.5" class="a1"/><rect x="622.16" y="339.5" width="11.3" height="11.5" class="a2"/><rect x="644.72" y="339.5" width="11.3" height="11.5" class="a2"/>
</g>
<path d="M92,305V351M103.28,305V351M114.56,305V351M125.84,305V351M137.12,305V351M148.4,305V351M159.68,305V351M170.96,305V351M182.24,305V351M193.52,305V351M204.8,305V351M216.08,305V351M227.36,305V351M238.64,305V351M249.92,305V351M261.2,305V351M272.48,305V351M283.76,305V351M295.04,305V351M306.32,305V351M317.6,305V351M328.88,305V351M340.16,305V351M351.44,305V351M362.72,305V351M374,305V351M385.28,305V351M396.56,305V351M407.84,305V351M419.12,305V351M430.4,305V351M441.68,305V351M452.96,305V351M464.24,305V351M475.52,305V351M486.8,305V351M498.08,305V351M509.36,305V351M520.64,305V351M531.92,305V351M543.2,305V351M554.48,305V351M565.76,305V351M577.04,305V351M588.32,305V351M599.6,305V351M610.88,305V351M622.16,305V351M633.44,305V351M644.72,305V351M656,305V351M92,305H656M92,316.5H656M92,328H656M92,339.5H656M92,351H656" stroke="#2a2a2a" stroke-width="0.7" fill="none"/>
<path d="M97.64,351V355.5M108.92,351V355.5M120.2,351V355.5M131.48,351V355.5M142.76,351V355.5M154.04,351V355.5M165.32,351V355.5M176.6,351V355.5M187.88,351V355.5M199.16,351V355.5M210.44,351V355.5M221.72,351V355.5M233,351V355.5M244.28,351V355.5M255.56,351V355.5M266.84,351V355.5M278.12,351V355.5M289.4,351V355.5M300.68,351V355.5M311.96,351V355.5M323.24,351V355.5M334.52,351V355.5M345.8,351V355.5M357.08,351V355.5M368.36,351V355.5M379.64,351V355.5M390.92,351V355.5M402.2,351V355.5M413.48,351V355.5M424.76,351V355.5M436.04,351V355.5M447.32,351V355.5M458.6,351V355.5M469.88,351V355.5M481.16,351V355.5M492.44,351V355.5M503.72,351V355.5M515,351V355.5M526.28,351V355.5M537.56,351V355.5M548.84,351V355.5M560.12,351V355.5M571.4,351V355.5M582.68,351V355.5M593.96,351V355.5M605.24,351V355.5M616.52,351V355.5M627.8,351V355.5M639.08,351V355.5M650.36,351V355.5" stroke="#555" stroke-width="0.8"/>
<!-- colorbar -->
<rect x="668" y="305" width="11.5" height="43.3" fill="url(#cb)"/>
<g stroke="#fff" stroke-width="0.8"><line x1="668" y1="318" x2="670.5" y2="318"/><line x1="677" y1="318" x2="679.5" y2="318"/><line x1="668" y1="333.7" x2="670.5" y2="333.7"/><line x1="677" y1="333.7" x2="679.5" y2="333.7"/></g>
<g font-size="12" fill="#222"><text x="689" y="322.5">2</text><text x="689" y="338">1</text><text x="689" y="354">0</text>
<text x="668" y="368">median</text><text x="668" y="381">DGE</text><text x="668" y="393.5">log2FC</text></g>
<!-- table row labels -->
<g font-size="12" fill="#222" text-anchor="end">
<text x="90" y="372">Recovery (h)</text><text x="90" y="394.5">Treatment (h)</text><text x="90" y="435.5">KD/Treatment</text><text x="90" y="491">KO/Tag</text><text x="90" y="546">Cell line</text>
</g>
<!-- recovery coloured -->
<rect x="531.92" y="356.7" width="11.28" height="22.3" fill="#6b0a04"/><rect x="543.2" y="356.7" width="11.28" height="22.3" fill="#8c3408"/><rect x="554.48" y="356.7" width="11.28" height="22.3" fill="#bc5612"/><rect x="565.76" y="356.7" width="11.28" height="22.3" fill="#e27a20"/><rect x="577.04" y="356.7" width="11.28" height="22.3" fill="#f29a1c"/><rect x="588.32" y="356.7" width="11.28" height="22.3" fill="#f4b42c"/><rect x="599.6" y="356.7" width="11.28" height="22.3" fill="#f4cf6e"/>
<!-- treatment -->
<rect x="92" y="379" width="124.08" height="22.7" fill="#353a3e"/>
<rect x="216.08" y="379" width="112.8" height="22.7" fill="#7d7d7d"/>
<rect x="328.88" y="379" width="11.28" height="22.7" fill="#0a0a0a"/>
<rect x="340.16" y="379" width="101.52" height="22.7" fill="#353a3e"/>
<rect x="441.68" y="379" width="11.28" height="22.7" fill="#595959"/>
<rect x="452.96" y="379" width="11.28" height="22.7" fill="#5ec49c"/>
<rect x="464.24" y="379" width="11.28" height="22.7" fill="#38ad8d"/>
<rect x="475.52" y="379" width="11.28" height="22.7" fill="#179784"/>
<rect x="486.8" y="379" width="11.28" height="22.7" fill="#0b7f77"/>
<rect x="498.08" y="379" width="11.28" height="22.7" fill="#086a6f"/>
<rect x="509.36" y="379" width="11.28" height="22.7" fill="#075864"/>
<rect x="520.64" y="379" width="11.28" height="22.7" fill="#053f52"/>
<rect x="531.92" y="379" width="78.96" height="22.7" fill="#0b4f5c"/>
<rect x="610.88" y="379" width="11.28" height="22.7" fill="#b9b7dd"/>
<rect x="622.16" y="379" width="11.28" height="22.7" fill="#6c5cb0"/>
<rect x="633.44" y="379" width="11.28" height="22.7" fill="#dc8b9c"/>
<rect x="644.72" y="379" width="11.28" height="22.7" fill="#8e2754"/>
<!-- table lines -->
<g stroke="#999" stroke-width="1.1" fill="none">
<rect x="92" y="356.7" width="564" height="210"/>
<path d="M92,379H656M92,401.7H656M92,458H656M92,515.7H656"/>
<path d="M216.08,356.7V379M328.88,356.7V379M340.16,356.7V379M441.68,356.7V379M452.96,356.7V379M464.24,356.7V379M475.52,356.7V379M486.8,356.7V379M498.08,356.7V379M509.36,356.7V379M520.64,356.7V379M531.92,356.7V379M610.88,356.7V379M622.16,356.7V379M633.44,356.7V379M644.72,356.7V379"/>
<path d="M114.56,401.7V458M125.84,401.7V458M137.12,401.7V458M148.4,401.7V458M159.68,401.7V458M170.96,401.7V458M216.08,401.7V458M238.64,401.7V458M272.48,401.7V458M328.88,401.7V458M340.16,401.7V458M362.72,401.7V458M374,401.7V458M385.28,401.7V458M396.56,401.7V458M407.84,401.7V458M419.12,401.7V458M430.4,401.7V458M441.68,401.7V458M610.88,401.7V458"/>
<path d="M103.28,458V515.7M137.12,458V515.7M170.96,458V515.7M216.08,458V515.7M227.36,458V515.7M238.64,458V515.7M249.92,458V515.7M261.2,458V515.7M272.48,458V515.7M283.76,458V515.7M295.04,458V515.7M306.32,458V515.7M328.88,458V515.7M340.16,458V515.7M351.44,458V515.7M374,458V515.7M396.56,458V515.7M419.12,458V515.7M441.68,458V515.7M452.96,458V515.7M610.88,458V515.7M633.44,458V515.7"/>
<path d="M182.24,515.7V566.7M193.52,515.7V566.7M204.8,515.7V566.7M216.08,515.7V566.7M306.32,515.7V566.7M317.6,515.7V566.7M328.88,515.7V566.7M340.16,515.7V566.7M441.68,515.7V566.7M633.44,515.7V566.7"/>
</g>
<!-- recovery texts -->
<g font-size="9.5" fill="#222" text-anchor="middle">
<text transform="translate(157,368) rotate(-90)">-</text><text transform="translate(275.5,368) rotate(-90)">-</text><text transform="translate(337.5,368) rotate(-90)">-</text><text transform="translate(394,368) rotate(-90)">-</text>
<text transform="translate(450.3,368) rotate(-90)">-</text><text transform="translate(461.6,368) rotate(-90)">-</text><text transform="translate(472.9,368) rotate(-90)">-</text><text transform="translate(484.2,368) rotate(-90)">-</text><text transform="translate(495.4,368) rotate(-90)">-</text><text transform="translate(506.7,368) rotate(-90)">-</text><text transform="translate(518,368) rotate(-90)">-</text><text transform="translate(529.3,368) rotate(-90)">-</text>
<text transform="translate(619.5,368) rotate(-90)">-</text><text transform="translate(630.8,368) rotate(-90)">-</text><text transform="translate(642.1,368) rotate(-90)">-</text><text transform="translate(653.4,368) rotate(-90)">-</text>
</g>
<g font-size="10" fill="#fff" text-anchor="middle">
<text transform="translate(541.2,368) rotate(-90)">0</text><text transform="translate(552.4,368) rotate(-90)">2</text><text transform="translate(563.7,368) rotate(-90)">4</text><text transform="translate(575,368) rotate(-90)">8</text><text transform="translate(586.3,368) rotate(-90)">12</text><text transform="translate(597.6,368) rotate(-90)">24</text><text transform="translate(608.8,368) rotate(-90)">48</text>
</g>
<!-- treatment texts -->
<g font-size="10" fill="#fff" text-anchor="middle">
<text transform="translate(157.6,390.4) rotate(-90)">72</text><text transform="translate(276.1,390.4) rotate(-90)">24</text><text transform="translate(338.1,390.4) rotate(-90)">96</text><text transform="translate(394.5,390.4) rotate(-90)">72</text><text transform="translate(450.9,390.4) rotate(-90)">48</text>
<text transform="translate(462.2,390.4) rotate(-90)">0</text><text transform="translate(473.5,390.4) rotate(-90)">2</text><text transform="translate(484.8,390.4) rotate(-90)">4</text><text transform="translate(496,390.4) rotate(-90)">8</text><text transform="translate(507.3,390.4) rotate(-90)">12</text><text transform="translate(518.6,390.4) rotate(-90)">24</text><text transform="translate(529.9,390.4) rotate(-90)">48</text>
<text transform="translate(575,390.4) rotate(-90)">24</text><text transform="translate(620.1,390.4) rotate(-90)">0</text><text transform="translate(631.4,390.4) rotate(-90)">12</text><text transform="translate(642.7,390.4) rotate(-90)">0</text><text transform="translate(654,390.4) rotate(-90)">12</text>
</g>
<!-- KD texts -->
<g font-size="10" fill="#222" text-anchor="middle">
<text transform="translate(106.3,430) rotate(-90)">-</text>
<text transform="translate(123.8,430) rotate(-90)">SMG5-KD</text>
<text transform="translate(135.1,430) rotate(-90)">SMG6-KD</text>
<text transform="translate(145.8,430) rotate(-90)">-</text>
<text transform="translate(157.6,430) rotate(-90)">SMG5-KD</text>
<text transform="translate(168.9,430) rotate(-90)">SMG6-KD</text>
<text transform="translate(186.1,430) rotate(-90)"><tspan x="0">SMG6-KD</tspan><tspan x="0" dy="11">+</tspan><tspan x="0" dy="11">SMG7-KD</tspan></text>
<text transform="translate(230.4,430) rotate(-90)">-</text>
<text transform="translate(253.7,430) rotate(-90)"><tspan x="0">0.1 µM</tspan><tspan x="0" dy="11">SMG1i</tspan></text>
<text transform="translate(298.8,430) rotate(-90)"><tspan x="0">1 µM</tspan><tspan x="0" dy="11">SMG1i</tspan></text>
<text transform="translate(338.1,430) rotate(-90)">UPF1-KD</text>
<text transform="translate(354.4,430) rotate(-90)">-</text>
<text transform="translate(372,430) rotate(-90)">UPF3B-KD</text>
<text transform="translate(382.6,430) rotate(-90)">-</text>
<text transform="translate(394.5,430) rotate(-90)">UPF3B-KD</text>
<text transform="translate(405.2,430) rotate(-90)">-</text>
<text transform="translate(417.1,430) rotate(-90)">CASC3-KD</text>
<text transform="translate(427.8,430) rotate(-90)">-</text>
<text transform="translate(439.6,430) rotate(-90)">CASC3-KD</text>
<text transform="translate(529.9,430) rotate(-90)">IAA</text>
<text transform="translate(637,430) rotate(-90)">dTAG<tspan font-size="7" dy="-4">V</tspan><tspan dy="4">-1</tspan></text>
</g>
<!-- KO texts -->
<g font-size="10" fill="#222" text-anchor="middle">
<text transform="translate(100.6,487) rotate(-90)">-</text>
<text transform="translate(118.8,487) rotate(-90)"><tspan x="0">SMG7-</tspan><tspan x="0" dy="10">KO-2</tspan></text>
<text transform="translate(152.6,487) rotate(-90)"><tspan x="0">SMG7-</tspan><tspan x="0" dy="10">KO-34</tspan></text>
<text transform="translate(196.5,487) rotate(-90)">-</text>
<text transform="translate(225.3,487) rotate(-90)">SMG8-KO</text>
<text transform="translate(236.6,487) rotate(-90)">SMG9-KO</text>
<text transform="translate(247.3,487) rotate(-90)">-</text>
<text transform="translate(259.2,487) rotate(-90)">SMG8-KO</text>
<text transform="translate(270.4,487) rotate(-90)">SMG9-KO</text>
<text transform="translate(281.1,487) rotate(-90)">-</text>
<text transform="translate(293,487) rotate(-90)">SMG8-KO</text>
<text transform="translate(304.3,487) rotate(-90)">SMG9-KO</text>
<text transform="translate(320.6,487) rotate(-90)">-</text>
<text transform="translate(337.5,487) rotate(-90)">-</text>
<text transform="translate(349.4,487) rotate(-90)">UPF3B-KO</text>
<text transform="translate(361.3,487) rotate(-90)"><tspan x="0">UPF3-</tspan><tspan x="0" dy="10">dKO-1</tspan></text>
<text transform="translate(383.9,487) rotate(-90)"><tspan x="0">UPF3-</tspan><tspan x="0" dy="10">dKO-2</tspan></text>
<text transform="translate(406.4,487) rotate(-90)"><tspan x="0">CASC3-</tspan><tspan x="0" dy="10">KO-H</tspan></text>
<text transform="translate(429,487) rotate(-90)"><tspan x="0">CASC3-</tspan><tspan x="0" dy="10">KO-T</tspan></text>
<text transform="translate(450.3,487) rotate(-90)">-</text>
<text transform="translate(530.5,487) rotate(-90)"><tspan x="0">N-AID-</tspan><tspan x="0" dy="10">UPF1</tspan></text>
<text transform="translate(620.8,487) rotate(-90)"><tspan x="0">FKBP-</tspan><tspan x="0" dy="10">UPF1</tspan></text>
<text transform="translate(643.3,487) rotate(-90)"><tspan x="0">FKBP-</tspan><tspan x="0" dy="10">UPF1</tspan></text>
</g>
<!-- Cell line texts -->
<g font-size="10" fill="#222" text-anchor="middle">
<text transform="translate(140.7,541.2) rotate(-90)">HEK293</text>
<text transform="translate(191.5,541.2) rotate(-90)">HeLa</text>
<text transform="translate(202.8,541.2) rotate(-90)">MCF7</text>
<text transform="translate(214,541.2) rotate(-90)">U2OS</text>
<text transform="translate(264.8,541.2) rotate(-90)">HCT116</text>
<text transform="translate(315.6,541.2) rotate(-90)">HFF</text>
<text transform="translate(326.8,541.2) rotate(-90)">HUVEC</text>
<text transform="translate(338.1,541.2) rotate(-90)">HeLa</text>
<text transform="translate(394.5,541.2) rotate(-90)">HEK293</text>
<text transform="translate(541.2,541.2) rotate(-90)">HCT116</text>
<text transform="translate(648.3,541.2) rotate(-90)">HEK293</text>
</g>
<!-- brackets -->
<g stroke="#444" stroke-width="1" fill="none">
<path d="M94,571V579H168.3V571"/>
<path d="M173.3,571V579H213.3V571"/>
<path d="M218.3,571V579H304V571"/>
<path d="M309,571V579H326V571M317.5,579V608"/>
<path d="M334.3,571V608"/>
<path d="M342.7,571V579H394V571"/>
<path d="M399,571V579H439V571"/>
<path d="M445,571V579H529.3V571"/>
<path d="M534,571V579H607.7V571"/>
<path d="M613.3,571V579H653.3V571"/>
</g>
<g font-size="10" fill="#333" text-anchor="middle">
<text x="131" y="592">Boehm</text><text x="131" y="603">et al. 2021</text>
<text x="193.3" y="592">Britto-Borges</text><text x="193.3" y="603">et al. 2024</text>
<text x="261" y="592">Kueckelmann</text><text x="261" y="603">et al. 2024</text>
<text x="368.3" y="592">Wallmeroth</text><text x="368.3" y="603">et al. 2022</text>
<text x="419" y="592">Gerbracht</text><text x="419" y="603">et al. 2020</text>
<text x="487" y="592">UPF1-AID</text><text x="487" y="603">Depletion</text>
<text x="571" y="592">UPF1-AID</text><text x="571" y="603">Recovery</text>
<text x="633.3" y="592">FKBP-UPF1</text><text x="633.3" y="603">Depletion</text>
<text x="297.5" y="619">this study</text>
<text x="333" y="619" text-anchor="start">(cyto.) Longman et al. 2020</text>
</g>

<!-- ================= PANEL G ================= -->
<text x="752" y="338" font-size="17" font-weight="bold" fill="#222">G</text>
<line x1="890" y1="338" x2="890" y2="608.3" stroke="#666"/>
<line x1="890" y1="608.3" x2="1003" y2="608.3" stroke="#666"/>
<line x1="906.7" y1="340" x2="906.7" y2="608" stroke="#333" stroke-dasharray="4,3" stroke-width="1.1"/>
<line x1="930" y1="328" x2="930" y2="608" stroke="#b4587a" stroke-width="1.5"/>
<text x="934" y="340" font-size="10.5" fill="#b4587a">sig. cutoff</text>
<g stroke="#666"><line x1="886" y1="363" x2="890" y2="363"/><line x1="886" y1="407" x2="890" y2="407"/><line x1="886" y1="451.5" x2="890" y2="451.5"/><line x1="886" y1="495" x2="890" y2="495"/><line x1="886" y1="539" x2="890" y2="539"/><line x1="886" y1="584" x2="890" y2="584"/>
<line x1="906.7" y1="608.3" x2="906.7" y2="611.5"/><line x1="930" y1="608.3" x2="930" y2="611.5"/><line x1="952.7" y1="608.3" x2="952.7" y2="611.5"/><line x1="999.3" y1="608.3" x2="999.3" y2="611.5"/></g>
<g font-size="12" fill="#222" text-anchor="middle">
<text x="906.7" y="629">0</text><text x="930" y="629" fill="#b4587a">1</text><text x="952.7" y="629">2</text><text x="999.3" y="629">4</text>
<text x="946.7" y="647.5">DGE log2FC</text>
</g>
<g font-size="11.5" fill="#222" text-anchor="end">
<text x="880" y="360.5">(cyto.) Longman et al. 2020</text><text x="880" y="375">HeLa - UPF1 KD</text>
<text x="880" y="404.5">HCT116 - N-AID-UPF1</text><text x="880" y="419">12h IAA</text>
<text x="880" y="449.5">HCT116 - N-AID-UPF1</text><text x="880" y="463">24h IAA</text>
<text x="880" y="492.5">HCT116 - N-AID-UPF1</text><text x="880" y="507">48h IAA</text>
<text x="880" y="536.5">HCT116 - FKBP-UPF1</text><text x="880" y="550.5">12h dTAG<tspan font-size="8" dy="-5">V</tspan><tspan dy="5">-1</tspan></text>
<text x="880" y="581">HEK293 - FKBP-UPF1</text><text x="880" y="594.5">12h dTAG<tspan font-size="8" dy="-5">V</tspan><tspan dy="5">-1</tspan></text>
</g>
<!-- G boxes -->
<g stroke-width="1">
<line x1="901" y1="350.7" x2="997.7" y2="350.7" stroke="#aaa"/><rect x="932.3" y="347.2" width="26" height="7" fill="#e8b87a" stroke="#8a6a40"/><line x1="945.7" y1="347.2" x2="945.7" y2="354.2" stroke="#5a4020"/>
<line x1="896.7" y1="359" x2="985" y2="359" stroke="#555"/><rect x="919.3" y="355.5" width="25.7" height="7" fill="#a38660" stroke="#4a3a24"/><line x1="932.3" y1="355.5" x2="932.3" y2="362.5" stroke="#222"/>
<line x1="896.7" y1="367.3" x2="975" y2="367.3" stroke="#555"/><rect x="914" y="363.8" width="25" height="7" fill="#56708c" stroke="#22303e"/><line x1="925.7" y1="363.8" x2="925.7" y2="370.8" stroke="#111"/>
<line x1="896.7" y1="375.7" x2="950.7" y2="375.7" stroke="#555"/><rect x="906.7" y="372.2" width="17.6" height="7" fill="#c5cbce" stroke="#666"/><line x1="915" y1="372.2" x2="915" y2="379.2" stroke="#444"/>
<line x1="907.7" y1="394.7" x2="999.3" y2="394.7" stroke="#aaa"/><rect x="951" y="391.2" width="28.3" height="7" fill="#e8b87a" stroke="#8a6a40"/><line x1="967.3" y1="391.2" x2="967.3" y2="398.2" stroke="#5a4020"/>
<line x1="896.7" y1="402.7" x2="999.3" y2="402.7" stroke="#555"/><rect x="937.3" y="399.2" width="30.4" height="7" fill="#a38660" stroke="#4a3a24"/><line x1="951.7" y1="399.2" x2="951.7" y2="406.2" stroke="#222"/>
<line x1="896.7" y1="411" x2="990.7" y2="411" stroke="#555"/><rect x="928.3" y="407.5" width="25" height="7" fill="#56708c" stroke="#22303e"/><line x1="939" y1="407.5" x2="939" y2="414.5" stroke="#111"/>
<line x1="896.7" y1="419" x2="978.3" y2="419" stroke="#555"/><rect x="918.3" y="415.5" width="24" height="7" fill="#c5cbce" stroke="#666"/><line x1="930.7" y1="415.5" x2="930.7" y2="422.5" stroke="#444"/>
<line x1="910.7" y1="438.3" x2="999.3" y2="438.3" stroke="#aaa"/><rect x="951.7" y="434.8" width="28.3" height="7" fill="#e8b87a" stroke="#8a6a40"/><line x1="965.7" y1="434.8" x2="965.7" y2="441.8" stroke="#5a4020"/>
<line x1="906.7" y1="446.7" x2="999.3" y2="446.7" stroke="#555"/><rect x="941" y="443.2" width="27.3" height="7" fill="#a38660" stroke="#4a3a24"/><line x1="954.3" y1="443.2" x2="954.3" y2="450.2" stroke="#222"/>
<line x1="896.7" y1="455" x2="995.7" y2="455" stroke="#555"/><rect x="930.7" y="451.5" width="26" height="7" fill="#56708c" stroke="#22303e"/><line x1="941" y1="451.5" x2="941" y2="458.5" stroke="#111"/>
<line x1="896.7" y1="463.3" x2="974.3" y2="463.3" stroke="#555"/><rect x="922.3" y="459.8" width="21" height="7" fill="#c5cbce" stroke="#666"/><line x1="931.7" y1="459.8" x2="931.7" y2="466.8" stroke="#444"/>
<line x1="908.3" y1="482.7" x2="999.3" y2="482.7" stroke="#aaa"/><rect x="950" y="479.2" width="27.3" height="7" fill="#e8b87a" stroke="#8a6a40"/><line x1="964" y1="479.2" x2="964" y2="486.2" stroke="#5a4020"/>
<line x1="906.7" y1="491" x2="999.3" y2="491" stroke="#555"/><rect x="938.3" y="487.5" width="29.4" height="7" fill="#a38660" stroke="#4a3a24"/><line x1="953.3" y1="487.5" x2="953.3" y2="494.5" stroke="#222"/>
<line x1="896.7" y1="499.3" x2="999.3" y2="499.3" stroke="#555"/><rect x="929" y="495.8" width="28.3" height="7" fill="#56708c" stroke="#22303e"/><line x1="941.7" y1="495.8" x2="941.7" y2="502.8" stroke="#111"/>
<line x1="896.7" y1="507.3" x2="979" y2="507.3" stroke="#555"/><rect x="922.3" y="503.8" width="22.7" height="7" fill="#c5cbce" stroke="#666"/><line x1="933.3" y1="503.8" x2="933.3" y2="510.8" stroke="#444"/>
<line x1="913.3" y1="526.7" x2="999.3" y2="526.7" stroke="#aaa"/><rect x="948.3" y="523.2" width="25" height="7" fill="#e8b87a" stroke="#8a6a40"/><line x1="961.7" y1="523.2" x2="961.7" y2="530.2" stroke="#5a4020"/>
<line x1="903.3" y1="534.7" x2="990.7" y2="534.7" stroke="#555"/><rect x="935.7" y="531.2" width="22.6" height="7" fill="#a38660" stroke="#4a3a24"/><line x1="946.7" y1="531.2" x2="946.7" y2="538.2" stroke="#222"/>
<line x1="896.7" y1="543" x2="973.3" y2="543" stroke="#555"/><rect x="926" y="539.5" width="19.7" height="7" fill="#56708c" stroke="#22303e"/><line x1="936" y1="539.5" x2="936" y2="546.5" stroke="#111"/>
<line x1="896.7" y1="551" x2="960" y2="551" stroke="#555"/><rect x="912.3" y="547.5" width="19.4" height="7" fill="#c5cbce" stroke="#666"/><line x1="922.3" y1="547.5" x2="922.3" y2="554.5" stroke="#444"/>
<line x1="917.7" y1="570.7" x2="999.3" y2="570.7" stroke="#aaa"/><rect x="948.3" y="567.2" width="26.7" height="7" fill="#e8b87a" stroke="#8a6a40"/><line x1="961.7" y1="567.2" x2="961.7" y2="574.2" stroke="#5a4020"/>
<line x1="906.7" y1="579" x2="994.3" y2="579" stroke="#555"/><rect x="937.7" y="575.5" width="23.3" height="7" fill="#a38660" stroke="#4a3a24"/><line x1="947.3" y1="575.5" x2="947.3" y2="582.5" stroke="#222"/>
<line x1="896.7" y1="587.3" x2="971" y2="587.3" stroke="#555"/><rect x="924.3" y="583.8" width="19" height="7" fill="#56708c" stroke="#22303e"/><line x1="933.3" y1="583.8" x2="933.3" y2="590.8" stroke="#111"/>
<line x1="896.7" y1="595.7" x2="949.3" y2="595.7" stroke="#555"/><rect x="907.3" y="592.2" width="17" height="7" fill="#c5cbce" stroke="#666"/><line x1="915.7" y1="592.2" x2="915.7" y2="599.2" stroke="#444"/>
</g>
<!-- G legend -->
<g font-size="11.5" fill="#222" text-anchor="end"><text x="1073" y="323">NMD</text><text x="1073" y="336">relevance bin</text></g>
<g stroke-width="1">
<line x1="1009.5" y1="346" x2="1023.5" y2="346" stroke="#888"/><rect x="1012.5" y="342" width="8" height="8" fill="#e8b87a" stroke="#8a6a40"/><line x1="1016.5" y1="342" x2="1016.5" y2="350" stroke="#5a4020"/>
<line x1="1009.5" y1="361" x2="1023.5" y2="361" stroke="#555"/><rect x="1012.5" y="357" width="8" height="8" fill="#a38660" stroke="#4a3a24"/><line x1="1016.5" y1="357" x2="1016.5" y2="365" stroke="#222"/>
<line x1="1009.5" y1="376" x2="1023.5" y2="376" stroke="#555"/><rect x="1012.5" y="372" width="8" height="8" fill="#56708c" stroke="#22303e"/><line x1="1016.5" y1="372" x2="1016.5" y2="380" stroke="#111"/>
<line x1="1009.5" y1="391" x2="1023.5" y2="391" stroke="#555"/><rect x="1012.5" y="387" width="8" height="8" fill="#c5cbce" stroke="#666"/><line x1="1016.5" y1="387" x2="1016.5" y2="395" stroke="#444"/>
</g>
<g font-size="12" fill="#222"><text x="1030" y="350">(75,100]</text><text x="1030" y="365">(50,75]</text><text x="1030" y="380">(25,50]</text><text x="1030" y="395">[0,25]</text></g>

<!-- watermark -->
<g opacity="0.75">
<ellipse cx="763" cy="608" rx="15" ry="12" fill="#bdbdbd"/>
<path d="M754,617 L751,624 L760,619z" fill="#bdbdbd"/>
<ellipse cx="778" cy="616" rx="12.5" ry="10" fill="#bdbdbd" stroke="#fff" stroke-width="1.5"/>
<path d="M786,623 L789,628 L782,625z" fill="#bdbdbd"/>
<circle cx="758" cy="604" r="1.8" fill="#fff"/><circle cx="768" cy="604" r="1.8" fill="#fff"/>
<circle cx="774" cy="614" r="1.5" fill="#fff"/><circle cx="782" cy="614" r="1.5" fill="#fff"/>
<text x="800" y="623" font-size="29" fill="#b8b8b8" font-family="'Noto Sans CJK SC','WenQuanYi Zen Hei',sans-serif">公众号</text>
<text x="903" y="620" font-size="20" fill="#b8b8b8" text-anchor="middle">·</text>
<text x="925" y="623" font-size="29" fill="#b8b8b8" font-family="'Noto Sans CJK SC','WenQuanYi Zen Hei',sans-serif">新使生物</text>
</g>
</svg>
</body></html>
